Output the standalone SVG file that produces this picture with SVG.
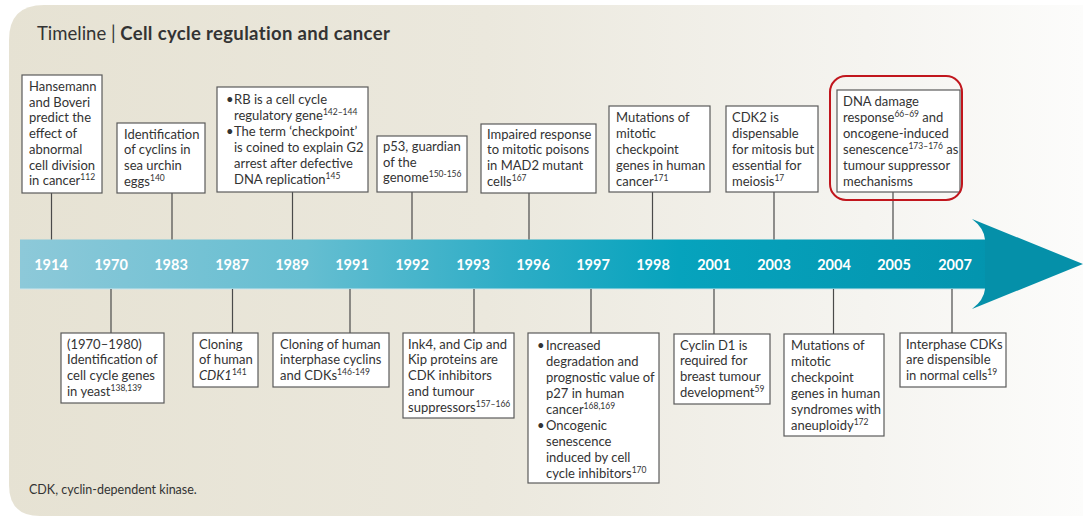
<svg xmlns="http://www.w3.org/2000/svg" width="1083" height="516" viewBox="0 0 1083 516">
<defs>
<linearGradient id="bg" x1="0" y1="0" x2="1083" y2="0" gradientUnits="userSpaceOnUse">
<stop offset="0" stop-color="#e6e2d3"/>
<stop offset="0.45" stop-color="#ebe8dd"/>
<stop offset="0.8" stop-color="#f5f4f0"/>
<stop offset="1" stop-color="#fcfcfb"/>
</linearGradient>
<linearGradient id="band" x1="20" y1="0" x2="1083" y2="0" gradientUnits="userSpaceOnUse">
<stop offset="0" stop-color="#8dc9d9"/>
<stop offset="0.27" stop-color="#65bed1"/>
<stop offset="0.46" stop-color="#2eadc6"/>
<stop offset="0.62" stop-color="#06a3bd"/>
<stop offset="1" stop-color="#0290aa"/>
</linearGradient>
<style>
.t{font-family:Lato,"Open Sans","Liberation Sans",sans-serif;font-size:13px;fill:#333}
.s{font-size:8.5px}
.yr{font-family:Lato,"Open Sans","Liberation Sans",sans-serif;font-size:14.5px;font-weight:bold;fill:#fff;text-anchor:middle}
.box{fill:#fff;stroke:#5a5a5a;stroke-width:1.2}
.ln{stroke:#4a4a4a;stroke-width:1.2;fill:none}
</style>
</defs>
<path d="M9,40 Q9,5 44,5 H1083 V516 H40 Q9,516 9,485 Z" fill="url(#bg)"/>
<text x="37" y="40" style="font-family:Lato,'Open Sans','Liberation Sans',sans-serif;font-size:18.5px;fill:#333">Timeline | <tspan font-weight="bold" letter-spacing="0.35">Cell cycle regulation and cancer</tspan></text>

<g id="timeline-arrow">
<rect x="20" y="239.5" width="966" height="49.5" fill="url(#band)"/>
<line x1="20" y1="289" x2="986" y2="289" stroke="#cfe6ec" stroke-width="1"/>
<path d="M985,239.5 Q984,228 972,219 L1083,264 L972,309 Q984,300 985,289 Z" fill="#0590a9"/>
<text class="yr" y="270"><tspan x="51">1914</tspan><tspan x="111">1970</tspan><tspan x="171">1983</tspan><tspan x="232">1987</tspan><tspan x="292">1989</tspan><tspan x="352">1991</tspan><tspan x="412">1992</tspan><tspan x="473">1993</tspan><tspan x="533">1996</tspan><tspan x="593">1997</tspan><tspan x="653">1998</tspan><tspan x="714">2001</tspan><tspan x="774">2003</tspan><tspan x="834">2004</tspan><tspan x="894">2005</tspan><tspan x="955">2007</tspan></text>
</g>

<g id="connectors">
<line class="ln" x1="51.5" y1="193" x2="51.5" y2="239.5"/>
<line class="ln" x1="172" y1="193" x2="172" y2="239.5"/>
<line class="ln" x1="292.5" y1="192" x2="292.5" y2="239.5"/>
<line class="ln" x1="412" y1="192" x2="412" y2="239.5"/>
<line class="ln" x1="529" y1="193" x2="529" y2="239.5"/>
<line class="ln" x1="652.5" y1="192" x2="652.5" y2="239.5"/>
<line class="ln" x1="774" y1="192" x2="774" y2="239.5"/>
<line class="ln" x1="893" y1="192" x2="893" y2="239.5"/>
<line class="ln" x1="111" y1="289" x2="111" y2="333"/>
<line class="ln" x1="232.5" y1="289" x2="232.5" y2="333"/>
<line class="ln" x1="350" y1="289" x2="350" y2="333"/>
<line class="ln" x1="474" y1="289" x2="474" y2="333"/>
<line class="ln" x1="591" y1="289" x2="591" y2="333"/>
<line class="ln" x1="714" y1="289" x2="714" y2="334"/>
<line class="ln" x1="833.5" y1="289" x2="833.5" y2="334"/>
<line class="ln" x1="952" y1="289" x2="952" y2="333"/>
</g>

<g id="n1914">
<rect class="box" x="22" y="75" width="80" height="118"/>
<text class="t" x="29" y="91">Hansemann<tspan x="29" dy="15.7">and Boveri</tspan><tspan x="29" dy="15.7">predict the</tspan><tspan x="29" dy="15.7">effect of</tspan><tspan x="29" dy="15.7">abnormal</tspan><tspan x="29" dy="15.7">cell division</tspan><tspan x="29" dy="15.7">in cancer</tspan><tspan class="s" dy="-5">112</tspan></text>
</g>
<g id="n1983">
<rect class="box" x="117" y="123" width="88" height="70"/>
<text class="t" x="124" y="138.5">Identification<tspan x="124" dy="15.8">of cyclins in</tspan><tspan x="124" dy="15.8">sea urchin</tspan><tspan x="124" dy="15.8">eggs</tspan><tspan class="s" dy="-5">140</tspan></text>
</g>
<g id="n1989">
<rect class="box" x="217" y="87" width="151" height="105"/>
<text class="t" x="226" y="103.5">•<tspan x="234">RB is a cell cycle</tspan><tspan x="234" dy="16">regulatory gene</tspan><tspan class="s" dy="-5">142–144</tspan><tspan x="226" dy="21">•</tspan><tspan x="234">The term ‘checkpoint’</tspan><tspan x="234" dy="16">is coined to explain G2</tspan><tspan x="234" dy="16">arrest after defective</tspan><tspan x="234" dy="16">DNA replication</tspan><tspan class="s" dy="-5">145</tspan></text>
</g>
<g id="n1992">
<rect class="box" x="377" y="136" width="90" height="56"/>
<text class="t" x="383" y="151">p53, guardian<tspan x="383" dy="15.5">of the</tspan><tspan x="383" dy="15.5">genome</tspan><tspan class="s" dy="-5">150-156</tspan></text>
</g>
<g id="n1996">
<rect class="box" x="481" y="124" width="115" height="69"/>
<text class="t" x="487" y="138.5">Impaired response<tspan x="487" dy="15.8">to mitotic poisons</tspan><tspan x="487" dy="15.8">in MAD2 mutant</tspan><tspan x="487" dy="15.8">cells</tspan><tspan class="s" dy="-5">167</tspan></text>
</g>
<g id="n1998">
<rect class="box" x="609" y="106" width="101" height="86"/>
<text class="t" x="616" y="121.5">Mutations of<tspan x="616" dy="16">mitotic</tspan><tspan x="616" dy="16">checkpoint</tspan><tspan x="616" dy="16">genes in human</tspan><tspan x="616" dy="16">cancer</tspan><tspan class="s" dy="-5">171</tspan></text>
</g>
<g id="n2003">
<rect class="box" x="726" y="106" width="92" height="86"/>
<text class="t" x="732" y="121.5">CDK2 is<tspan x="732" dy="16">dispensable</tspan><tspan x="732" dy="16">for mitosis but</tspan><tspan x="732" dy="16">essential for</tspan><tspan x="732" dy="16">meiosis</tspan><tspan class="s" dy="-5">17</tspan></text>
</g>
<g id="n2005">
<rect class="box" x="837" y="90" width="123" height="102"/>
<rect x="830" y="76" width="132" height="124" rx="16" fill="none" stroke="#c1161d" stroke-width="2"/>
<text class="t" x="843" y="106">DNA damage<tspan x="843" dy="16">response</tspan><tspan class="s" dy="-5">66–69</tspan><tspan dy="5"> and</tspan><tspan x="843" dy="16">oncogene-induced</tspan><tspan x="843" dy="16">senescence</tspan><tspan class="s" dy="-5">173–176</tspan><tspan dy="5"> as</tspan><tspan x="843" dy="16">tumour suppressor</tspan><tspan x="843" dy="16">mechanisms</tspan></text>
</g>

<g id="n1970">
<rect class="box" x="61" y="333" width="103" height="70"/>
<text class="t" x="67" y="348.5">(1970–1980)<tspan x="67" dy="15.8">Identification of</tspan><tspan x="67" dy="15.8">cell cycle genes</tspan><tspan x="67" dy="15.8">in yeast</tspan><tspan class="s" dy="-5">138,139</tspan></text>
</g>
<g id="n1987">
<rect class="box" x="193" y="333" width="65" height="54"/>
<text class="t" x="199" y="348.5">Cloning<tspan x="199" dy="15.8">of human</tspan><tspan x="199" dy="15.8" font-style="italic">CDK1</tspan><tspan class="s" dy="-5">141</tspan></text>
</g>
<g id="n1991">
<rect class="box" x="273" y="333" width="116" height="54"/>
<text class="t" x="280" y="348.5">Cloning of human<tspan x="280" dy="15.8">interphase cyclins</tspan><tspan x="280" dy="15.8">and CDKs</tspan><tspan class="s" dy="-5">146-149</tspan></text>
</g>
<g id="n1993">
<rect class="box" x="403" y="333" width="111" height="85"/>
<text class="t" x="408" y="348.5">Ink4, and Cip and<tspan x="408" dy="15.8">Kip proteins are</tspan><tspan x="408" dy="15.8">CDK inhibitors</tspan><tspan x="408" dy="15.8">and tumour</tspan><tspan x="408" dy="15.8">suppressors</tspan><tspan class="s" dy="-5">157–166</tspan></text>
</g>
<g id="n1997">
<rect class="box" x="528" y="333" width="131" height="150"/>
<text class="t" x="537" y="349.5">•<tspan x="546">Increased</tspan><tspan x="546" dy="16">degradation and</tspan><tspan x="546" dy="16">prognostic value of</tspan><tspan x="546" dy="16">p27 in human</tspan><tspan x="546" dy="16">cancer</tspan><tspan class="s" dy="-5">168,169</tspan><tspan x="537" dy="21">•</tspan><tspan x="546">Oncogenic</tspan><tspan x="546" dy="16">senescence</tspan><tspan x="546" dy="16">induced by cell</tspan><tspan x="546" dy="16">cycle inhibitors</tspan><tspan class="s" dy="-5">170</tspan></text>
</g>
<g id="n2001">
<rect class="box" x="674" y="334" width="96" height="70"/>
<text class="t" x="680" y="349.5">Cyclin D1 is<tspan x="680" dy="15.8">required for</tspan><tspan x="680" dy="15.8">breast tumour</tspan><tspan x="680" dy="15.8">development</tspan><tspan class="s" dy="-5">59</tspan></text>
</g>
<g id="n2004">
<rect class="box" x="784" y="334" width="100" height="102"/>
<text class="t" x="791" y="349.5">Mutations of<tspan x="791" dy="16">mitotic</tspan><tspan x="791" dy="16">checkpoint</tspan><tspan x="791" dy="16">genes in human</tspan><tspan x="791" dy="16">syndromes with</tspan><tspan x="791" dy="16">aneuploidy</tspan><tspan class="s" dy="-5">172</tspan></text>
</g>
<g id="n2007">
<rect class="box" x="900" y="333" width="106" height="54"/>
<text class="t" x="906" y="348.5">Interphase CDKs<tspan x="906" dy="15.8">are dispensible</tspan><tspan x="906" dy="15.8">in normal cells</tspan><tspan class="s" dy="-5">19</tspan></text>
</g>

<text class="t" x="29" y="493.5" style="font-size:12.5px">CDK, cyclin-dependent kinase.</text>
</svg>
